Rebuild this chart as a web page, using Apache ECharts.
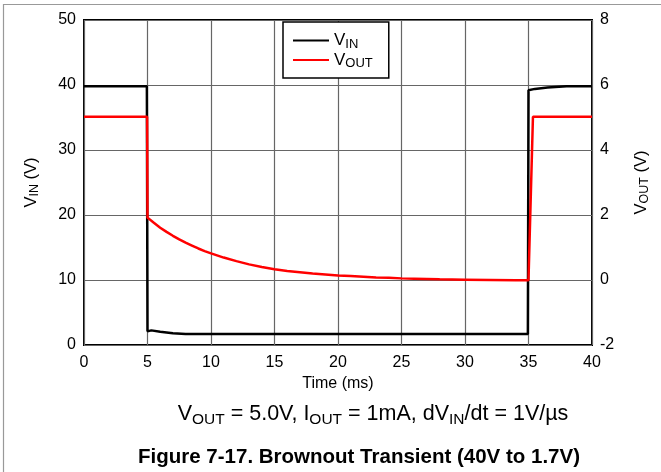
<!DOCTYPE html>
<html><head><meta charset="utf-8">
<script src="https://cdn.jsdelivr.net/npm/echarts@6/dist/echarts.min.js"></script>
<style>html,body{margin:0;padding:0;background:#fff}#c{width:661px;height:472px}</style>
</head><body><div id="c"></div>
<script>
// Time axis ticks (ms)
const xTicks = [0, 5, 10, 15, 20, 25, 30, 35, 40];
const vinTicks = [0, 10, 20, 30, 40, 50];
const voutTicks = [-2, 0, 2, 4, 6, 8];
// VIN (V) vs time (ms)
const vinTime = [0, 4.95, 5.0, 5.3, 6.0, 7.0, 8.0, 20, 34.95, 35.0, 35.5, 36.5, 38, 40];
const vinVal  = [39.8, 39.8, 2.1, 2.25, 2.05, 1.8, 1.7, 1.7, 1.7, 39.2, 39.4, 39.6, 39.8, 39.8];
// VOUT (V) vs time (ms)
const voutTime = [0, 4.97, 5.0, 5.5, 6, 6.5, 7, 7.5, 8, 8.5, 9, 9.5, 10, 11, 12, 13, 14, 15, 16, 17, 18, 19, 20, 21, 22, 23, 24, 25, 26, 28, 30, 32, 34, 35.0, 35.35, 40];
const voutVal  = [5.02, 5.02, 1.92, 1.76, 1.61, 1.48, 1.36, 1.25, 1.15, 1.06, 0.97, 0.89, 0.82, 0.69, 0.58, 0.48, 0.40, 0.33, 0.28, 0.24, 0.20, 0.17, 0.14, 0.12, 0.10, 0.08, 0.07, 0.05, 0.04, 0.02, 0.01, 0.0, -0.01, -0.01, 5.02, 5.02];

const FONT = '"Liberation Sans", Arial, sans-serif';
const chart = echarts.init(document.getElementById('c'), null, {renderer: 'canvas'});
const sub = {fontSize: 12.5, fontFamily: FONT, color: '#000', verticalAlign: 'bottom', lineHeight: 20};
const nrm = {fontSize: 16.5, fontFamily: FONT, color: '#000', verticalAlign: 'middle', lineHeight: 20};

chart.setOption({
  animation: false,
  backgroundColor: '#fff',
  grid: {left: 84, right: 69, top: 20, bottom: 127, show: true, borderColor: '#000', borderWidth: 2, containLabel: false},
  title: [{
    text: '{n|V}{s|OUT}{n| = 5.0V, I}{s|OUT}{n| = 1mA, dV}{s|IN}{n|/dt = 1V/µs}',
    left: 368, top: 395, textAlign: 'center',
    textStyle: {fontWeight: 'normal', rich: {
      n: {fontSize: 21.5, fontWeight: 'normal', fontFamily: FONT, color: '#000', verticalAlign: 'middle', lineHeight: 28},
      s: {fontSize: 15.5, fontWeight: 'normal', fontFamily: FONT, color: '#000', verticalAlign: 'bottom', lineHeight: 28}
    }}
  }, {
    text: 'Figure 7-17. Brownout Transient (40V to 1.7V)',
    left: 354, top: 442, textAlign: 'center',
    textStyle: {fontSize: 20.5, fontWeight: 'bold', fontFamily: FONT, color: '#000'}
  }],
  legend: {
    orient: 'vertical', left: 283, top: 22, width: 106,
    padding: [10, 16, 8, 10], itemGap: 1,
    backgroundColor: '#fff', borderColor: '#000', borderWidth: 1.5, borderRadius: 0,
    itemWidth: 36, itemHeight: 2, icon: 'rect',
    data: ['VIN', 'VOUT'],
    formatter: function (n) { return '{n|V}{s|' + n.slice(1) + '}'; },
    textStyle: {rich: {
      n: {fontSize: 17, fontFamily: FONT, color: '#000', verticalAlign: 'middle', lineHeight: 20},
      s: {fontSize: 13, fontFamily: FONT, color: '#000', verticalAlign: 'bottom', lineHeight: 20}
    }}
  },
  xAxis: {
    type: 'value', min: 0, max: 40, interval: 5,
    name: 'Time (ms)', nameLocation: 'middle', nameGap: 29,
    nameTextStyle: {fontSize: 16, fontFamily: FONT, color: '#000'},
    axisLine: {show: false}, axisTick: {show: false},
    axisLabel: {fontSize: 16, fontFamily: FONT, color: '#000', margin: 10},
    splitLine: {show: true, lineStyle: {color: '#666', width: 1.2}}
  },
  yAxis: [{
    type: 'value', min: 0, max: 50, interval: 10, position: 'left',
    name: '{n|V}{s|IN}{n| (V)}', nameLocation: 'middle', nameGap: 43, nameRotate: 90,
    nameTextStyle: {rich: {n: nrm, s: sub}},
    axisLine: {show: false}, axisTick: {show: false},
    axisLabel: {fontSize: 16, fontFamily: FONT, color: '#000', margin: 8},
    splitLine: {show: true, lineStyle: {color: '#666', width: 1.2}}
  }, {
    type: 'value', min: -2, max: 8, interval: 2, position: 'right',
    name: '{n|V}{s|OUT}{n| (V)}', nameLocation: 'middle', nameGap: 39, nameRotate: 90,
    nameTextStyle: {rich: {n: nrm, s: sub}},
    axisLine: {show: false}, axisTick: {show: false},
    axisLabel: {fontSize: 16, fontFamily: FONT, color: '#000', margin: 8},
    splitLine: {show: false}
  }],
  graphic: [
    {type: 'line', shape: {x1: 3.5, y1: 4, x2: 3.5, y2: 472}, style: {stroke: '#999', lineWidth: 1.2}},
    {type: 'line', shape: {x1: 3, y1: 4.5, x2: 661, y2: 4.5}, style: {stroke: '#999', lineWidth: 1.2}}
  ],
  series: [{
    name: 'VIN', type: 'line', yAxisIndex: 0, showSymbol: false, symbol: 'none',
    lineStyle: {color: '#000', width: 2.5}, itemStyle: {color: '#000'},
    data: vinTime.map((t, i) => [t, vinVal[i]])
  }, {
    name: 'VOUT', type: 'line', yAxisIndex: 1, showSymbol: false, symbol: 'none',
    lineStyle: {color: '#ff0000', width: 2.5}, itemStyle: {color: '#ff0000'},
    data: voutTime.map((t, i) => [t, voutVal[i]])
  }]
});
</script></body></html>
